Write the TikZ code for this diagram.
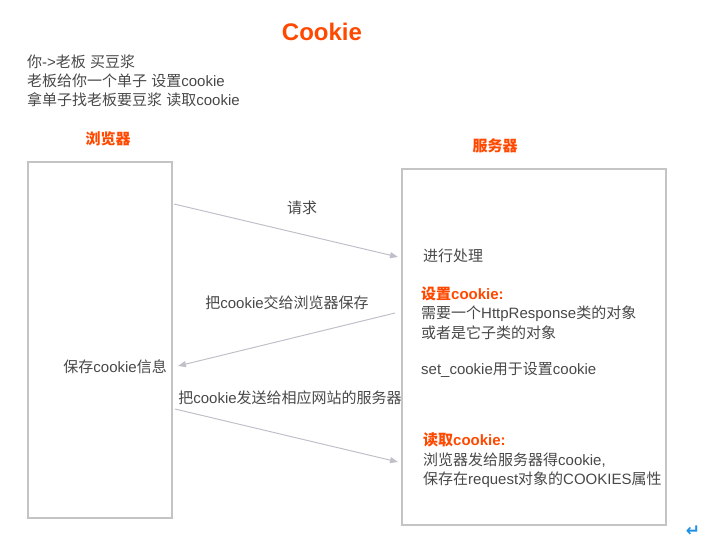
\documentclass[tikz,border=0pt]{standalone}
\usepackage{fontspec}
\setmainfont{Liberation Sans}
\newfontfamily\cjk{Noto Sans CJK SC}
\newfontfamily\symfont{DejaVu Sans}
\usetikzlibrary{arrows.meta}
\XeTeXinterchartokenstate=1
\newXeTeXintercharclass\cjkclass
\count255="4E00
\loop\XeTeXcharclass\count255=\cjkclass\advance\count255 by 1\ifnum\count255<"A000\repeat
\count255="3000
\loop\XeTeXcharclass\count255=\cjkclass\advance\count255 by 1\ifnum\count255<"3040\repeat
\count255="FF00
\loop\XeTeXcharclass\count255=\cjkclass\advance\count255 by 1\ifnum\count255<"FFF0\repeat
\XeTeXinterchartoks 0 \cjkclass = {\cjk}
\XeTeXinterchartoks 4095 \cjkclass = {\cjk}
\XeTeXinterchartoks \cjkclass 0 = {\rmfamily}
\XeTeXinterchartoks \cjkclass 4095 = {\rmfamily}
\definecolor{accent}{RGB}{255,72,0}
\definecolor{txt}{RGB}{72,72,72}
\definecolor{boxline}{RGB}{196,196,196}
\definecolor{arrowc}{RGB}{192,192,202}
\definecolor{retblue}{RGB}{30,144,230}
\begin{document}
\begin{tikzpicture}[x=1pt,y=-1pt,
  body/.style={anchor=west,inner sep=0pt,text=txt,font=\fontsize{15}{18}\selectfont},
  head/.style={inner sep=0pt,text=accent,font=\fontsize{15}{18}\selectfont\bfseries},
  hl/.style={anchor=west,inner sep=0pt,text=accent,font=\fontsize{15}{18}\selectfont\bfseries},
  lbl/.style={inner sep=0pt,text=txt,font=\fontsize{15}{18}\selectfont},
  panel/.style={draw=boxline,line width=1.2pt},
  flow/.style={draw=arrowc,line width=1pt,-{Triangle[length=8pt,width=6pt]}}]
\useasboundingbox (0,0) rectangle (705,556);
\node[inner sep=0pt,text=accent,font=\fontsize{24}{28}\selectfont\bfseries] (title) at (322,32) {Cookie};
\node[body] (l1) at (27,62) {你->老板 买豆浆};
\node[body] (l2) at (27,81) {老板给你一个单子 设置cookie};
\node[body] (l3) at (27,100) {拿单子找老板要豆浆 读取cookie};
\node[head] (hb) at (108,139) {浏览器};
\node[head] (hs) at (495,146) {服务器};
\draw[panel] (28,162) rectangle (172,518);
\draw[panel] (402,169) rectangle (666,525);
\coordinate (a1s) at (174,204);
\coordinate (a1e) at (398,257);
\coordinate (a2s) at (395,313);
\coordinate (a2e) at (178,366);
\coordinate (a3s) at (175,409);
\coordinate (a3e) at (398,462);
\draw[flow] (a1s) -- (a1e);
\draw[flow] (a2s) -- (a2e);
\draw[flow] (a3s) -- (a3e);
\node[lbl] (q) at (302,208) {请求};
\node[lbl] (g) at (287,303) {把cookie交给浏览器保存};
\node[lbl,anchor=east] (save) at (167,367) {保存cookie信息};
\node[lbl] (send) at (290,398) {把cookie发送给相应网站的服务器};
\node[body] (s1) at (423,256) {进行处理};
\node[hl] (s2) at (421,294) {设置cookie:};
\node[body] (s3) at (421,314) {需要一个HttpResponse类的对象};
\node[body] (s4) at (421,333) {或者是它子类的对象};
\node[body] (s5) at (421,370) {set\_cookie用于设置cookie};
\node[hl] (s6) at (423,440) {读取cookie:};
\node[body] (s7) at (423,460) {浏览器发给服务器得cookie,};
\node[body] (s8) at (423,480) {保存在request对象的COOKIES属性};
\node[inner sep=0pt,text=retblue,font=\symfont\bfseries\fontsize{17}{19}\selectfont] (ret) at (693,531) {↵};
\end{tikzpicture}
\end{document}
